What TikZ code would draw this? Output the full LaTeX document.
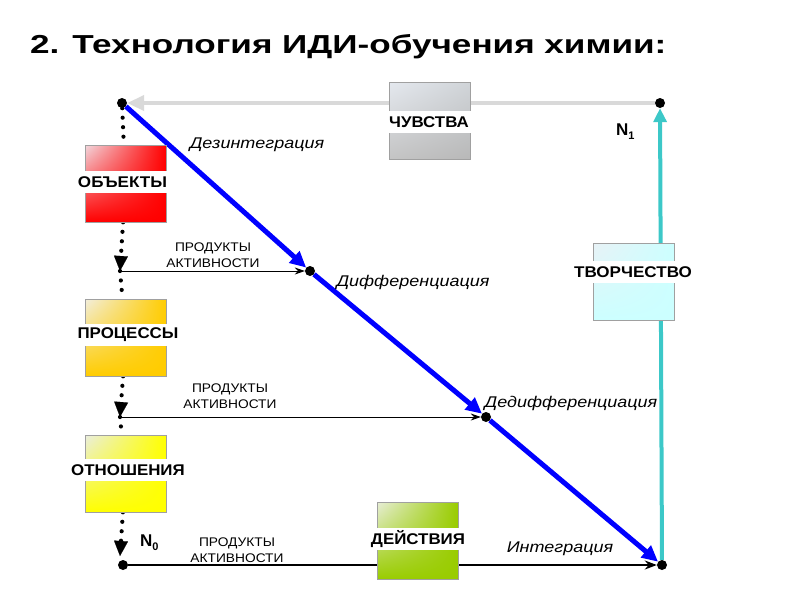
\documentclass[tikz,border=0pt]{standalone}
\usepackage{fontspec}
\setmainfont{Liberation Sans}
\usetikzlibrary{arrows.meta,shadings}
\pgfdeclarelayer{bg}
\pgfsetlayers{bg,main}
\newcommand{\hstretch}[2]{\scalebox{#1}[1]{#2}}
\definecolor{objRed}{HTML}{FF0000}
\definecolor{objLight}{HTML}{F2D8DE}
\definecolor{procGold}{HTML}{FFCC00}
\definecolor{procLight}{HTML}{F2EEDC}
\definecolor{relYellow}{HTML}{FFFF00}
\definecolor{relLight}{HTML}{EAEEE0}
\definecolor{creCyan}{HTML}{CCFFFF}
\definecolor{creLight}{HTML}{E8F2F6}
\definecolor{actGreen}{HTML}{99CC00}
\definecolor{actLight}{HTML}{E8EED8}
\definecolor{feelA}{HTML}{E4E8EE}
\definecolor{feelB}{HTML}{D0D4D8}
\definecolor{feelC}{HTML}{C4C4C4}
\definecolor{feelD}{HTML}{B8B8B8}
\definecolor{grayLine}{HTML}{D9D9D9}
\definecolor{cyanLine}{HTML}{3CC8C8}
\definecolor{boxEdge}{HTML}{A0A0A0}
\begin{document}
\begin{tikzpicture}[x=1pt,y=-1pt,
  boxstyle/.style={draw=boxEdge, line width=0.6pt, minimum width=81pt, minimum height=77pt, inner sep=0pt},
  lbl/.style={font=\fontsize{15.5}{18}\selectfont\bfseries, fill=white, minimum height=22pt, minimum width=84pt, inner xsep=0pt, inner ysep=0pt},
  prodlbl/.style={font=\fontsize{12.5}{15.5}\selectfont, align=center, inner sep=0pt},
  phase/.style={font=\fontsize{15.5}{18}\selectfont\itshape, inner sep=0pt},
  nlbl/.style={font=\fontsize{17}{20}\selectfont\bfseries, inner sep=0pt},
  bdot/.style={circle, fill=black, minimum size=10pt, inner sep=0pt},
  dotline/.style={line width=4.2pt, line cap=round, dash pattern=on 0pt off 9.5pt, -{Triangle[length=15pt,width=14pt,line width=0.1pt]}},
  dotplain/.style={line width=4.2pt, line cap=round, dash pattern=on 0pt off 9.5pt},
  thinarrow/.style={line width=0.9pt, -{Stealth[length=10pt,width=7pt]}},
  basearrow/.style={line width=2.5pt, -{Stealth[length=12pt,width=9pt]}},
  bluearrow/.style={line width=5pt, blue, -{Triangle[length=16pt,width=15pt]}},
  grayarrow/.style={line width=4.5pt, grayLine, -{Triangle[length=17pt,width=15pt]}},
  cyanarrow/.style={line width=4pt, cyanLine, -{Triangle[length=14pt,width=13pt]}}
]
\useasboundingbox (0,0) rectangle (800,600);

% title
\node[anchor=base west, inner sep=0pt, font=\fontsize{26}{30}\selectfont\bfseries] (title) at (30,53) {\hstretch{1.35}{2. Технология ИДИ-обучения химии:}};

% dots
\node[bdot] (tl) at (122,103) {};
\node[bdot] (tr) at (660,103) {};
\node[bdot] (bl) at (123,565) {};
\node[bdot] (br) at (662,565) {};
\node[bdot] (m1) at (310,271) {};
\node[bdot] (m2) at (486,417) {};
\coordinate (p1) at (120,271);
\coordinate (p2) at (120,417);
\coordinate (p3) at (120,556);

% boxes
\node[boxstyle, shade, upper left=objLight, upper right=objRed, lower left=objRed, lower right=objRed] (obj) at (125.5,183.5) {};
\node[boxstyle, shade, upper left=procLight, upper right=procGold, lower left=procGold, lower right=procGold] (proc) at (126,337.5) {};
\node[boxstyle, shade, upper left=relLight, upper right=relYellow, lower left=relYellow, lower right=relYellow] (rel) at (125.5,473.5) {};
\node[boxstyle, shade, upper left=feelA, upper right=feelB, lower left=feelC, lower right=feelD] (feel) at (429.5,121) {};
\node[boxstyle, shade, upper left=creLight, upper right=creCyan, lower left=creCyan, lower right=creCyan] (cre) at (634,281.5) {};
\node[boxstyle, shade, upper left=actLight, upper right=actGreen, lower left=actGreen, lower right=actGreen] (act) at (417.5,540.5) {};

% box labels
\node[lbl] (objt) at (122.5,182) {\hstretch{1.1}{ОБЪЕКТЫ}};
\node[lbl] (proct) at (128,335) {\hstretch{1.09}{ПРОЦЕССЫ}};
\node[lbl] (relt) at (128,470) {\hstretch{1.09}{ОТНОШЕНИЯ}};
\node[lbl] (feelt) at (429,122) {\hstretch{1.09}{ЧУВСТВА}};
\node[lbl] (cret) at (633,272) {\hstretch{1.1}{ТВОРЧЕСТВО}};
\node[lbl] (actt) at (418,539) {\hstretch{1.09}{ДЕЙСТВИЯ}};

% product labels
\node[prodlbl] (pr1) at (213,255) {\hstretch{1.1}{ПРОДУКТЫ}\\\hstretch{1.1}{АКТИВНОСТИ}};
\node[prodlbl] (pr2) at (230,396) {\hstretch{1.1}{ПРОДУКТЫ}\\\hstretch{1.1}{АКТИВНОСТИ}};
\node[prodlbl] (pr3) at (237,550) {\hstretch{1.1}{ПРОДУКТЫ}\\\hstretch{1.1}{АКТИВНОСТИ}};

% phase labels
\node[phase] (ph1) at (257,145) {\hstretch{1.16}{Дезинтеграция}};
\node[phase] (ph2) at (413,282) {\hstretch{1.16}{Дифференциация}};
\node[phase] (ph3) at (571,403) {\hstretch{1.16}{Дедифференциация}};
\node[phase] (ph4) at (560,549) {\hstretch{1.16}{Интеграция}};

% N labels
\node[nlbl, anchor=base west] (n1) at (616,135) {N\raisebox{-4pt}{\fontsize{11}{12}\selectfont 1}};
\node[nlbl, anchor=base west] (n0) at (140,546) {N\raisebox{-4pt}{\fontsize{11}{12}\selectfont 0}};

\begin{pgfonlayer}{bg}
  \draw[grayarrow] (tr) -- (tl);
  \draw[cyanarrow] (br) -- (tr);
  \draw[basearrow] (bl) -- (br);
  \draw[dotplain] (tl) -- (obj);
  \draw[dotline] (obj) -- (p1);
  \draw[dotplain] (p1) -- (proc);
  \draw[dotline] (proc) -- (p2);
  \draw[dotplain] (p2) -- (rel);
  \draw[dotline] (rel) -- (p3);
  \draw[thinarrow] (p1) -- (m1);
  \draw[thinarrow] (p2) -- (m2);
  \draw[bluearrow] (tl) -- (m1);
  \draw[bluearrow] (m1) -- (m2);
  \draw[bluearrow] (m2) -- (br);
\end{pgfonlayer}
\end{tikzpicture}
\end{document}
